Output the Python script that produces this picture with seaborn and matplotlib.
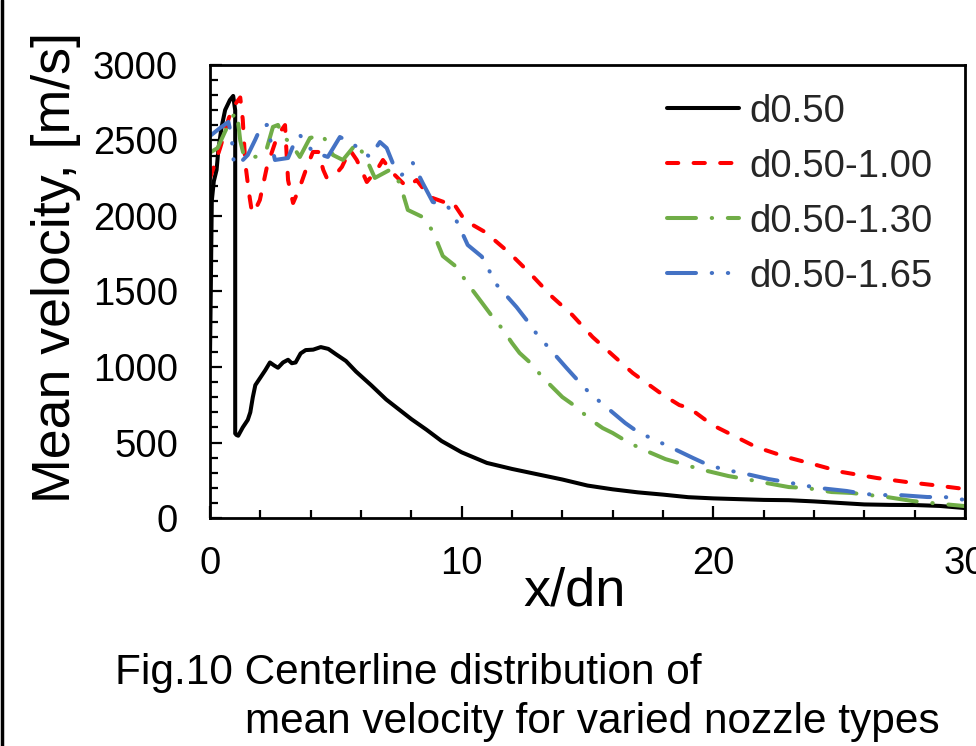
import numpy as np
import pandas as pd
import matplotlib
matplotlib.use("Agg")
import matplotlib.pyplot as plt
import seaborn as sns
from matplotlib.lines import Line2D
from matplotlib.ticker import MultipleLocator

# ---------------- data ----------------
series_names = ["d0.50", "d0.50-1.00", "d0.50-1.30", "d0.50-1.65"]

x_d050 = [0, 0.03, 0.05, 0.07, 0.15, 0.26, 0.33, 0.46, 0.6, 0.79,
          0.92, 1.0, 1.0, 1.05, 1.12, 1.3, 1.5, 1.6, 1.7, 1.8,
          2.0, 2.2, 2.38, 2.55, 2.7, 2.9, 3.1, 3.25, 3.4, 3.6,
          3.8, 4.1, 4.4, 4.7, 5.0, 5.4, 5.8, 6.4, 7.0, 7.5,
          8.0, 8.6, 9.2, 10.0, 11.0, 12.0, 13.0, 14.0, 15.0, 16.0,
          17.0, 18.0, 19.0, 20.0, 21.0, 22.0, 23.0, 24.0, 25.0, 26.0,
          27.0, 28.0, 29.0, 30.0]
v_d050 = [1100, 1500, 1800, 2100, 2230, 2305, 2437, 2589, 2702, 2768,
          2795, 2700, 560, 550, 545, 600, 650, 700, 800, 880,
          930, 980, 1030, 1010, 995, 1030, 1048, 1025, 1030, 1090,
          1112, 1115, 1132, 1120, 1085, 1040, 970, 880, 785, 720,
          655, 585, 510, 435, 365, 325, 290, 255, 215, 190,
          170, 155, 138, 130, 125, 120, 118, 110, 100, 90,
          87, 86, 80, 66]

x_d100 = [0, 0.4, 0.75, 1.0, 1.2, 1.3, 1.4, 1.55, 1.67, 1.85,
          1.98, 2.26, 2.58, 2.8, 2.98, 3.1, 3.3, 3.57, 3.85, 4.09,
          4.3, 4.5, 4.64, 5.04, 5.24, 5.56, 5.83, 6.07, 6.23, 6.63,
          6.87, 7.26, 7.82, 8.21, 8.73, 9.4, 9.64, 10.04, 10.3, 11.0,
          11.3, 11.9, 12.7, 13.6, 14.4, 15.2, 16.0, 16.8, 18.0, 18.65,
          19.05, 19.96, 20.75, 21.7, 22.9, 24.1, 25.1, 26.5, 27.7, 28.7,
          30]
v_d100 = [2250, 2450, 2650, 2740, 2785, 2640, 2350, 2150, 2020, 2060,
          2106, 2325, 2483, 2560, 2602, 2238, 2086, 2192, 2325, 2424,
          2424, 2305, 2252, 2285, 2325, 2437, 2371, 2285, 2225, 2305,
          2371, 2285, 2192, 2238, 2126, 2086, 2093, 1993, 1954, 1887,
          1841, 1755, 1623, 1464, 1344, 1199, 1079, 960, 815, 748,
          728, 616, 550, 470, 404, 351, 305, 265, 238, 219,
          192]

x_d130 = [0, 0.3, 0.6, 0.9, 1.07, 1.2, 1.35, 1.46, 1.71, 2.0,
          2.26, 2.5, 2.7, 2.9, 3.17, 3.57, 3.97, 4.48, 4.88, 5.28,
          5.83, 6.23, 6.55, 7.14, 7.54, 7.86, 8.45, 8.85, 9.25, 9.8,
          10.2, 10.8, 11.23, 11.63, 12.0, 12.3, 12.78, 13.2, 14.0, 14.56,
          15.08, 15.6, 16.0, 16.6, 17.2, 18.1, 18.9, 19.6, 20.6, 21.3,
          22.1, 23.0, 23.7, 24.7, 25.5, 26.2, 26.9, 27.9, 28.7, 30]
v_d130 = [2420, 2450, 2560, 2660, 2685, 2500, 2395, 2400, 2391, 2395,
          2450, 2590, 2603, 2523, 2490, 2391, 2517, 2536, 2404, 2371,
          2483, 2371, 2252, 2305, 2219, 2040, 1993, 1900, 1735, 1662,
          1560, 1427, 1331, 1250, 1159, 1093, 1020, 934, 801, 735,
          656, 596, 563, 503, 454, 390, 351, 318, 278, 258,
          232, 205, 199, 172, 166, 152, 139, 113, 99, 79]

x_d165 = [0, 0.4, 0.73, 0.86, 0.95, 1.19, 1.5, 1.79, 2.06, 2.26,
          2.58, 3.1, 3.45, 3.57, 4.09, 4.68, 5.16, 5.63, 6.35, 6.75,
          7.02, 7.26, 7.62, 8.06, 8.45, 8.85, 9.44, 9.84, 10.24, 10.8,
          11.1, 11.4, 12.18, 12.58, 12.98, 13.4, 14.17, 14.6, 15.08, 15.6,
          16.5, 17.0, 17.6, 18.25, 19.2, 19.8, 20.5, 21.15, 22.2, 22.9,
          23.5, 24.2, 25.3, 26.0, 26.7, 27.4, 28.5, 29.2, 30]
v_d165 = [2530, 2583, 2623, 2523, 2340, 2351, 2404, 2503, 2603, 2603,
          2371, 2384, 2523, 2536, 2424, 2391, 2523, 2483, 2391, 2490,
          2450, 2351, 2272, 2351, 2219, 2093, 2066, 1954, 1808, 1731,
          1636, 1543, 1397, 1311, 1219, 1139, 993, 914, 828, 755,
          629, 570, 523, 473, 397, 351, 318, 298, 258, 238,
          219, 199, 179, 159, 152, 152, 139, 139, 120]

x_ticks = [0, 10, 20, 30]
y_ticks = [0, 500, 1000, 1500, 2000, 2500, 3000]

# ---------------- styling ----------------
colors = ["#000000", "#FF0000", "#70AD47", "#4472C4"]
linestyles = ["-",
              (0, (2.8, 3.8)),
              (0, (7.2, 3.9, 0.1, 3.9)),
              (0, (7.2, 3.9, 0.1, 3.9, 0.1, 3.9))]

sns.set_theme(style="white")
plt.rcParams["font.family"] = ["Liberation Sans", "DejaVu Sans"]

fig = plt.figure(figsize=(9.76, 7.46), dpi=100)
ax = fig.add_axes([0.2152, 0.3056, 0.7735, 0.6073])

xs_all = [x_d050, x_d100, x_d130, x_d165]
vs_all = [v_d050, v_d100, v_d130, v_d165]
for name, xs, vs, c, ls in zip(series_names, xs_all, vs_all, colors, linestyles):
    df = pd.DataFrame({"x": xs, "v": vs})
    sns.lineplot(data=df, x="x", y="v", sort=False, estimator=None,
                 color=c, linestyle=ls, linewidth=2.9, label=name, ax=ax,
                 dash_capstyle="round", solid_capstyle="round",
                 solid_joinstyle="round", dash_joinstyle="round")

ax.set_xlim(0, 30)
ax.set_ylim(0, 3000)
ax.set_xticks(x_ticks)
ax.set_yticks(y_ticks)
ax.xaxis.set_minor_locator(MultipleLocator(2))
ax.yaxis.set_minor_locator(MultipleLocator(100))
ax.tick_params(axis="both", which="major", direction="in", length=8.5,
               width=1.6, color="black", labelsize=27.5, labelcolor="black",
               bottom=True, left=True, top=False, right=False)
ax.tick_params(axis="x", which="major", pad=20)
ax.tick_params(axis="y", which="major", pad=23)
ax.tick_params(axis="both", which="minor", direction="in", length=6,
               width=1.6, color="black", bottom=True, left=True,
               top=False, right=False)
for sp in ax.spines.values():
    sp.set_visible(True)
    sp.set_color("black")
    sp.set_linewidth(2.0)

ax.set_xlabel("x/dn", fontsize=39, color="black")
ax.xaxis.set_label_coords(0.483, -0.106)
ax.set_ylabel("Mean velocity, [m/s]", fontsize=38.7, color="black")
ax.yaxis.set_label_coords(-0.171, 0.553)

handles, labels = ax.get_legend_handles_labels()
ax.legend(handles, labels, loc="upper left", bbox_to_anchor=(0.605, 0.937),
          frameon=False, fontsize=27.5, handlelength=1.9, handletextpad=0.27,
          labelspacing=0.5, borderaxespad=0, borderpad=0)

fig.text(115 / 976, 1 - 684 / 746, "Fig.10 Centerline distribution of",
         fontsize=30.5, va="baseline", ha="left", color="black")
fig.text(245 / 976, 1 - 733 / 746, "mean velocity for varied nozzle types",
         fontsize=30.5, va="baseline", ha="left", color="black")

fig.add_artist(Line2D([0.002, 0.002], [0, 1], transform=fig.transFigure,
                      color="black", linewidth=2.5))

fig.savefig("out.png", dpi=100)
